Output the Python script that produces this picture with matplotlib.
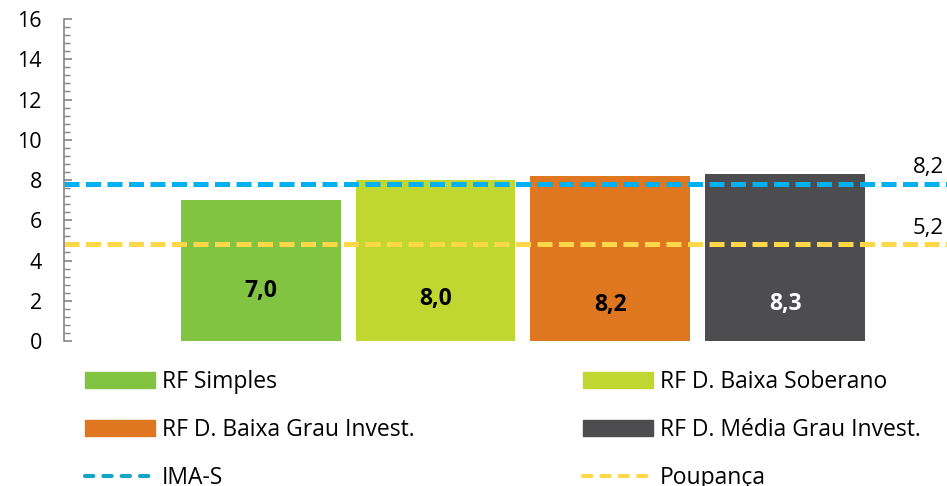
import matplotlib.pyplot as plt
from matplotlib.lines import Line2D
from matplotlib.patches import Patch
from matplotlib.ticker import MultipleLocator

plt.rcParams['font.family'] = ['Open Sans', 'DejaVu Sans']

# data
categories = ["RF Simples", "RF D. Baixa Soberano",
              "RF D. Baixa Grau Invest.", "RF D. Média Grau Invest."]
values = [7.0, 8.0, 8.2, 8.3]
value_text = ["7,0", "8,0", "8,2", "8,3"]
bar_colors = ["#82C341", "#C0D731", "#DE7720", "#4D4D4F"]
text_colors = ["black", "black", "black", "white"]
label_y = [2.5, 2.1, 1.8, 1.85]

ref_names = ["IMA-S", "Poupança"]
ref_levels = [7.8, 4.8]
ref_text = ["8,2", "5,2"]
ref_colors = ["#00B0F0", "#FFD84A"]
ref_legend_colors = ["#17A5C6", "#FFD84A"]
ref_text_y = [8.2, 5.2]

fig = plt.figure(figsize=(9.47, 4.86), dpi=100)
ax = fig.add_axes([64/947, 145/486, 1 - 64/947, 322/486])

x = list(range(len(values)))
ax.bar(x, values, width=0.914, color=bar_colors)
for i in x:
    ax.text(i, label_y[i], value_text[i], ha='center', va='center',
            fontsize=16.5, fontweight='bold', color=text_colors[i])

for lvl, c, t, ty in zip(ref_levels, ref_colors, ref_text, ref_text_y):
    ax.axhline(lvl, color=c, lw=3.6, dashes=(3, 1.3))
    ax.text(3.82, ty + 0.4, t, ha='center', va='center', fontsize=16)

ax.set_xlim(-1.126, 3.926)
ax.set_ylim(0, 16)
ax.yaxis.set_major_locator(MultipleLocator(2))
ax.yaxis.set_minor_locator(MultipleLocator(0.4))
ax.set_xticks([])
for s in ['top', 'right', 'bottom']:
    ax.spines[s].set_visible(False)
ax.spines['left'].set_color('#868686')
ax.spines['left'].set_linewidth(1.2)
ax.tick_params(axis='y', which='major', direction='in', length=6, width=1.2,
               color='#868686', labelsize=15.5, pad=16)
ax.tick_params(axis='y', which='minor', direction='in', length=4, width=1.0,
               color='#868686')

# legend, two columns placed by hand
h1 = [Patch(color=bar_colors[0]), Patch(color=bar_colors[2]),
      Line2D([], [], color=ref_legend_colors[0], lw=3, dashes=(2.0, 2.4),
             dash_capstyle='round')]
l1 = [categories[0], categories[2], ref_names[0]]
h2 = [Patch(color=bar_colors[1]), Patch(color=bar_colors[3]),
      Line2D([], [], color=ref_legend_colors[1], lw=3, dashes=(2.0, 2.4),
             dash_capstyle='round')]
l2 = [categories[1], categories[3], ref_names[1]]
for h, l, xl in [(h1, l1, 85/947), (h2, l2, 583/947)]:
    fig.legend(h, l, loc='upper left', bbox_to_anchor=(xl, 1 - 370/486),
               frameon=False, fontsize=16.5, handlelength=3.05,
               handleheight=0.69, handletextpad=0.3, labelspacing=1.05,
               borderpad=0, borderaxespad=0)

fig.savefig("out.png", dpi=100)
